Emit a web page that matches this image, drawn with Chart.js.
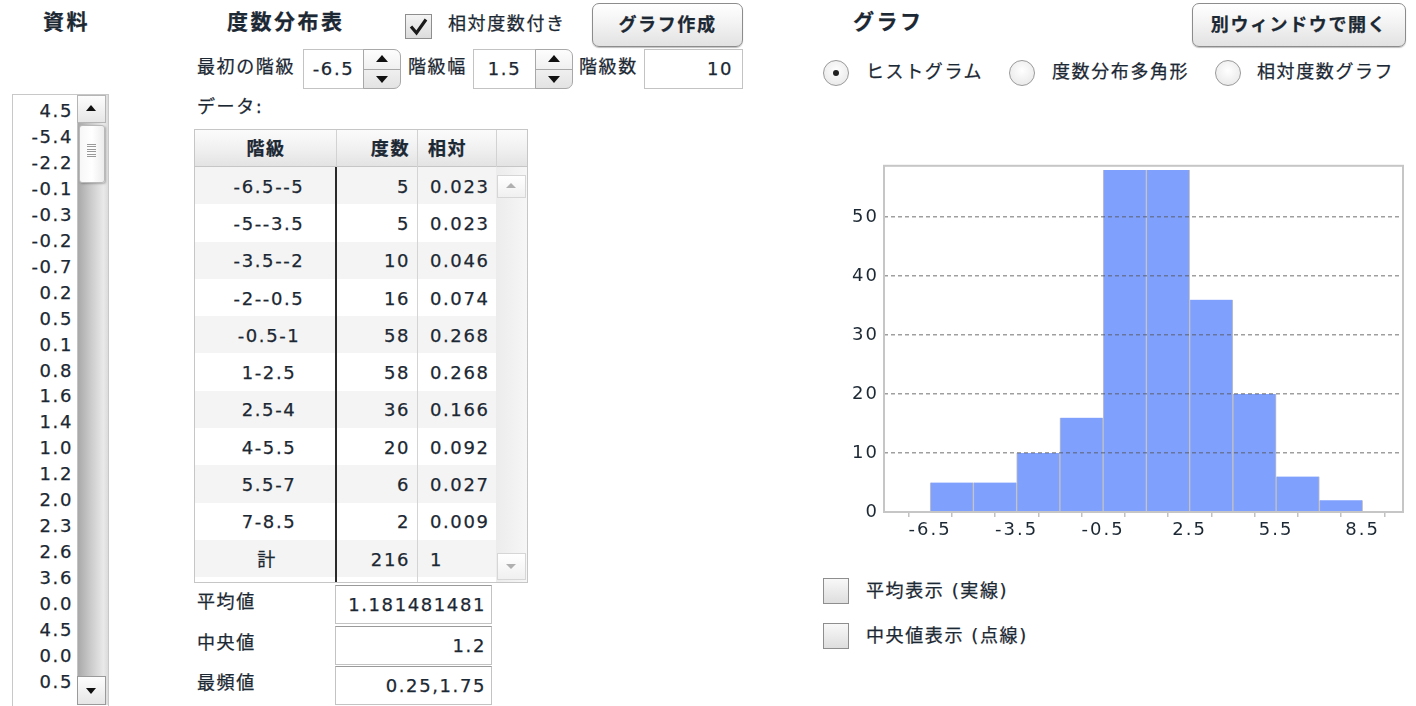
<!DOCTYPE html>
<html><head><meta charset="utf-8">
<script src="https://cdn.jsdelivr.net/npm/chart.js@4.4.0/dist/chart.umd.min.js"></script>
<style>
html,body{margin:0;padding:0;background:#fff;}
body{width:1416px;height:706px;position:relative;overflow:hidden;font-family:"DejaVu Sans","Noto Sans CJK JP",sans-serif;color:#1c2833;font-size:18px;letter-spacing:1.6px;-webkit-text-stroke:0.25px #1c2833;}
.a{position:absolute;white-space:nowrap;}
.box{position:absolute;border:1px solid #c3c3c3;background:#fff;box-sizing:border-box;}
.btn{position:absolute;box-sizing:border-box;border:1px solid #8c8c8c;border-radius:7px;background:linear-gradient(#ffffff,#f3f3f3 45%,#e2e2e2);box-shadow:0 1px 1px rgba(0,0,0,0.25);font-weight:bold;text-align:center;}
.chk{position:absolute;box-sizing:border-box;border:1px solid #8e8e8e;background:linear-gradient(#f4f4f4,#dcdcdc);}
.radio{position:absolute;box-sizing:border-box;border:1px solid #9a9a9a;border-radius:50%;background:radial-gradient(circle at 50% 40%,#ffffff,#e4e4e4);}
.spin{position:absolute;box-sizing:border-box;border:1px solid #a8a8a8;border-radius:0 7px 7px 0;background:linear-gradient(#fdfdfd,#e3e3e3);}
.tri-up{position:absolute;width:0;height:0;border-left:6px solid transparent;border-right:6px solid transparent;border-bottom:7px solid #111;}
.tri-dn{position:absolute;width:0;height:0;border-left:6px solid transparent;border-right:6px solid transparent;border-top:7px solid #111;}
#chartWrap{position:absolute;left:830px;top:150px;width:586px;height:420px;}
</style>
</head><body>
<div id="ui"></div>
<div id="chartWrap"><canvas id="c"></canvas></div>
<script>
// ---- data ----
const rawData = ['4.5','-5.4','-2.2','-0.1','-0.3','-0.2','-0.7','0.2','0.5','0.1','0.8','1.6','1.4','1.0','1.2','2.0','2.3','2.6','3.6','0.0','4.5','0.0','0.5'];
const classLabels = ['-6.5--5','-5--3.5','-3.5--2','-2--0.5','-0.5-1','1-2.5','2.5-4','4-5.5','5.5-7','7-8.5'];
const classLower = [-6.5,-5,-3.5,-2,-0.5,1,2.5,4,5.5,7];
const classUpper = [-5,-3.5,-2,-0.5,1,2.5,4,5.5,7,8.5];
const frequency = [5,5,10,16,58,58,36,20,6,2];
const relative = ['0.023','0.023','0.046','0.074','0.268','0.268','0.166','0.092','0.027','0.009'];
const totalCount = '216';
const totalRel = '1';
const statLabels = ['平均値','中央値','最頻値'];
const statValues = ['1.181481481','1.2','0.25,1.75'];
const xTickValues = [-6.5,-5,-3.5,-2,-0.5,1,2.5,4,5.5,7,8.5];
const xTickLabels = ['-6.5','','-3.5','','-0.5','','2.5','','5.5','','8.5'];
const yTickValues = [0,10,20,30,40,50];

const FONT = '"DejaVu Sans","Noto Sans CJK JP",sans-serif';
const TEXT = '#1c2833';
const ui = document.getElementById('ui');

function add(cls, x, y, w, h, extra){
  const d = document.createElement('div');
  d.className = cls;
  d.style.left = x+'px'; d.style.top = y+'px';
  if (w!=null) d.style.width = w+'px';
  if (h!=null) d.style.height = h+'px';
  if (extra) Object.assign(d.style, extra);
  ui.appendChild(d);
  return d;
}
function txt(s, x, cy, o){
  o = o || {};
  const d = add('a', x, cy-15, o.w!=null?o.w:null, 30, {lineHeight:'30px'});
  d.textContent = s;
  if (o.bold) d.style.fontWeight = 'bold';
  if (o.size) d.style.fontSize = o.size+'px';
  if (o.align) d.style.textAlign = o.align;
  if (o.color) d.style.color = o.color;
  if (o.ls!=null) d.style.letterSpacing = o.ls+'px';
  return d;
}
function spinner(x, y, w, h){
  add('spin', x, y, w, h);
  add('a', x, y+h/2, w-1, 1, {background:'#a8a8a8'});
  add('tri-up', x+w/2-6.5, y+h/4-4);
  add('tri-dn', x+w/2-6.5, y+3*h/4-3);
}

// ---- headings ----
txt('資料', 43, 22, {bold:true, size:21, ls:2.5});
txt('度数分布表', 227, 22, {bold:true, size:21, ls:2.5});
txt('グラフ', 853, 22, {bold:true, size:21, ls:2.5});

// checkbox 相対度数付き
add('chk', 405, 14, 27, 25);
const ck = add('a', 405, 14, 27, 25);
ck.innerHTML = '<svg width="27" height="25"><path d="M6 12.5 L11.5 19 L21 5.5" stroke="#1a1a1a" stroke-width="3.2" fill="none" stroke-linejoin="miter"/></svg>';
txt('相対度数付き', 448, 24);

// buttons
const b1 = add('btn', 592, 3, 151, 44, {lineHeight:'42px'}); b1.textContent = 'グラフ作成';
const b2 = add('btn', 1192, 3, 214, 44, {lineHeight:'42px'}); b2.textContent = '別ウィンドウで開く';

// class settings row
txt('最初の階級', 197, 67);
add('box', 303, 49, 61, 40);
txt('-6.5', 303, 69, {w:61, align:'center'});
spinner(363, 49, 38, 40);
txt('階級幅', 408, 67);
add('box', 473, 49, 63, 40);
txt('1.5', 473, 69, {w:63, align:'center'});
spinner(535, 49, 38, 40);
txt('階級数', 579, 67);
add('box', 644, 49, 99, 40);
txt('10', 644, 69, {w:89, align:'right'});

// radios
const radios = [[823,'ヒストグラム',866,true],[1009,'度数分布多角形',1052,false],[1215,'相対度数グラフ',1257,false]];
radios.forEach(r=>{
  add('radio', r[0], 60, 26, 26);
  if (r[3]) add('a', r[0]+10, 70, 6, 6, {borderRadius:'50%', background:'#222'});
  txt(r[1], r[2], 72);
});

txt('データ:', 197, 107);

// ---- raw data list ----
add('box', 12, 94, 97, 620, {borderColor:'#c8c8c8'});
rawData.forEach((v,i)=>{ txt(v, 12, 111 + i*25.95, {w:61, align:'right'}); });
// scrollbar
add('a', 77, 95, 30, 610, {background:'linear-gradient(90deg,#a9a9a9,#c9c9c9 40%,#e9e9e9 85%,#dcdcdc)', borderLeft:'1px solid #c3c3c3'});
add('a', 77, 95, 29, 28, {background:'linear-gradient(#fdfdfd,#e6e6e6)', border:'1px solid #b5b5b5', boxSizing:'border-box'});
add('tri-up', 86, 105, null, null, {borderLeftWidth:'5px', borderRightWidth:'5px', borderBottomWidth:'6px'});
add('a', 79, 125, 26, 58, {background:'linear-gradient(90deg,#f7f7f7,#ffffff 50%,#ececec)', border:'1px solid #b9b9b9', borderRadius:'3px', boxSizing:'border-box', boxShadow:'1px 1px 2px rgba(0,0,0,0.25)'});
for (let k=0;k<6;k++) add('a', 87, 144+k*2.4, 9, 1, {background:'#9a9a9a'});
add('a', 77, 676, 29, 29, {background:'linear-gradient(#fdfdfd,#e6e6e6)', border:'1px solid #9a9a9a', boxSizing:'border-box'});
add('tri-dn', 86, 688, null, null, {borderLeftWidth:'5px', borderRightWidth:'5px', borderTopWidth:'6px'});

// ---- frequency table ----
const T = {l:194, c1:336, c2:417, c3:496, r:528, top:129, hb:167, rh:37.3, bottom:583};
add('a', T.l, T.top, T.r-T.l, T.bottom-T.top, {border:'1px solid #c6c6c6', boxSizing:'border-box', background:'#fff'});
add('a', T.l+1, T.top+1, T.r-T.l-2, T.hb-T.top-1, {background:'linear-gradient(#fbfbfb,#f1f1f1 50%,#e3e3e3)', borderBottom:'1px solid #c6c6c6', boxSizing:'border-box'});
for (let i=0;i<11;i++){
  const y = T.hb + i*T.rh;
  if (i%2===0) add('a', T.l+1, y, T.c3-T.l-1, T.rh, {background:'#f4f4f4'});
}
[T.c1, T.c2, T.c3].forEach(x=>add('a', x, T.top+1, 1, T.hb-T.top-1, {background:'#d2d2d2'}));
add('a', T.c1-1, T.hb, 2, T.bottom-T.hb-1, {background:'#2a2a2a'});
add('a', T.c2, T.hb, 1, T.bottom-T.hb-1, {background:'#d4d4d4'});
add('a', T.c3, T.hb, T.r-T.c3-1, T.bottom-T.hb-1, {background:'linear-gradient(90deg,#ececec,#f6f6f6)'});
add('a', 497, 175, 29, 23, {background:'linear-gradient(#ffffff,#f0f0f0)', border:'1px solid #d6d6d6', boxSizing:'border-box'});
add('tri-up', 506, 183, null, null, {borderLeftWidth:'5px', borderRightWidth:'5px', borderBottomWidth:'5px', borderBottomColor:'#b0b0b0'});
add('a', 497, 553, 29, 27, {background:'linear-gradient(#ffffff,#f0f0f0)', border:'1px solid #d6d6d6', boxSizing:'border-box'});
add('tri-dn', 506, 564, null, null, {borderLeftWidth:'5px', borderRightWidth:'5px', borderTopWidth:'5px', borderTopColor:'#b0b0b0'});
txt('階級', 198, 149, {w:136, align:'center', bold:true});
txt('度数', 336, 149, {w:74, align:'right', bold:true});
txt('相対', 428, 149, {bold:true});
classLabels.forEach((lab,i)=>{
  const cy = T.hb + i*T.rh + T.rh/2 + 1;
  txt(lab, 198, cy, {w:142, align:'center'});
  txt(String(frequency[i]), 336, cy, {w:74, align:'right'});
  txt(relative[i], 430, cy);
});
const cyT = T.hb + 10*T.rh + T.rh/2 + 1;
txt('計', 198, cyT, {w:138, align:'center'});
txt(totalCount, 336, cyT, {w:74, align:'right'});
txt(totalRel, 430, cyT);

// stats
const statY = [585, 626, 666];
statLabels.forEach((s,i)=>{
  txt(s, 197, statY[i]+17);
  add('box', 335, statY[i], 157, 39, {borderColor:'#c3c3c3', borderTopColor:'#9a9a9a'});
  txt(statValues[i], 335, statY[i]+20, {w:151, align:'right'});
});

// bottom checkboxes
add('chk', 823, 578, 26, 26, {background:'linear-gradient(#f8f8f8,#dedede)'});
txt('平均表示 (実線)', 866, 591);
add('chk', 823, 623, 26, 26, {background:'linear-gradient(#f8f8f8,#dedede)'});
txt('中央値表示 (点線)', 866, 636);

// ---- chart ----
const plotFrame = {
  id:'plotFrame',
  afterDraw(chart){
    const a = chart.chartArea, ctx = chart.ctx;
    ctx.save();
    ctx.letterSpacing = '0px';
    ctx.strokeStyle = '#c6c6c6';
    ctx.lineWidth = 2;
    ctx.setLineDash([]);
    ctx.strokeRect(a.left, a.top, a.right-a.left, a.bottom-a.top);
    ctx.restore();
  }
};
const spacing = {
  id:'spacing',
  beforeLayout(chart){ chart.ctx.letterSpacing = '2px'; },
  beforeDraw(chart){ chart.ctx.letterSpacing = '2px'; }
};

new Chart(document.getElementById('c'), {
  type:'bar',
  data:{
    datasets:[{
      data: frequency.map((f,i)=>({x:(classLower[i]+classUpper[i])/2, y:f})),
      backgroundColor:'#80a0fd',
      borderColor:'#c2c2c2',
      borderWidth:{left:1,right:1,top:0,bottom:0},
      borderSkipped:false,
      barPercentage:1,
      categoryPercentage:1
    }]
  },
  options:{
    responsive:true,
    maintainAspectRatio:false,
    animation:false,
    events:[],
    layout:{padding:{left:0,top:11,right:13,bottom:18}},
    plugins:{legend:{display:false}, tooltip:{enabled:false}},
    scales:{
      x:{
        type:'linear', min:-8.1, max:9.9, offset:false,
        afterBuildTicks:s=>{ s.ticks = xTickValues.map(v=>({value:v})); },
        afterFit:s=>{ s.height = 40; },
        grid:{drawOnChartArea:false, drawTicks:true, tickLength:5, color:'#c2c2c2', lineWidth:1.5},
        border:{display:true, color:'#c6c6c6', width:2},
        ticks:{autoSkip:false, maxRotation:0, padding:3, color:TEXT, font:{size:18, family:FONT},
               callback:(v,i)=>xTickLabels[i]}
      },
      y:{
        min:0, max:58.7,
        afterBuildTicks:s=>{ s.ticks = yTickValues.map(v=>({value:v})); },
        afterFit:s=>{ s.width = 54; },
        grid:{z:1, drawTicks:false, lineWidth:1.5,
              color:ctx=> (ctx.tick && ctx.tick.value===0) ? 'rgba(0,0,0,0)' : 'rgba(80,80,80,0.55)'},
        border:{display:false, dash:[4,3]},
        ticks:{padding:5, color:TEXT, font:{size:18, family:FONT}, callback:v=>String(v)}
      }
    }
  },
  plugins:[plotFrame, spacing]
});
</script>
</body></html>
